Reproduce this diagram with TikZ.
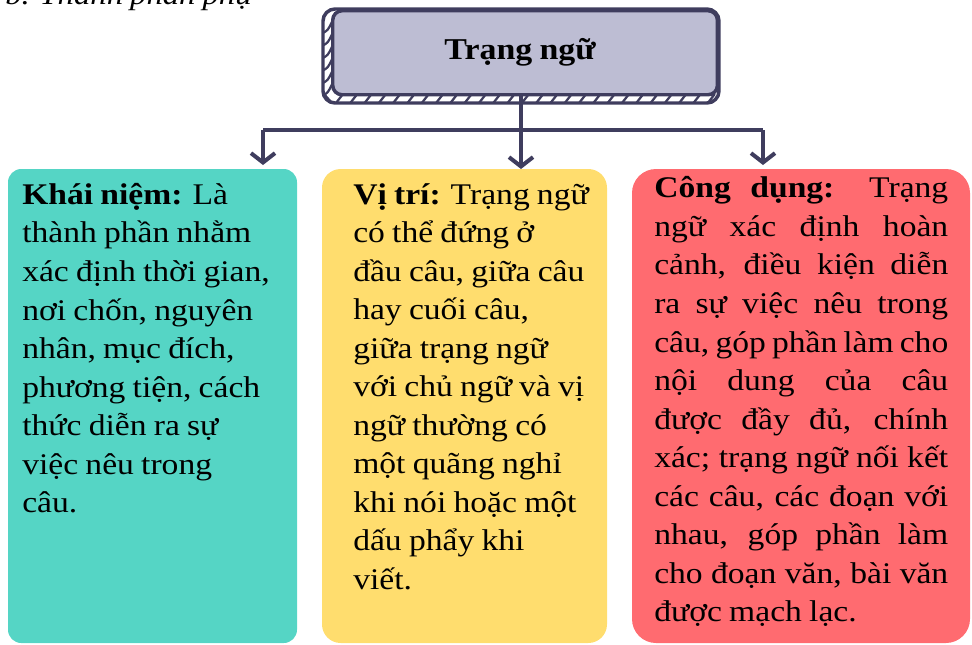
\documentclass[tikz,border=0pt]{standalone}
\usepackage{fontspec}
\setmainfont[FakeStretch=1.12,WordSpace=0.86]{Liberation Serif}
\usetikzlibrary{arrows.meta}
\definecolor{ink}{HTML}{3F3D5E}
\definecolor{lilac}{HTML}{BDBDD3}
\definecolor{teal}{HTML}{55D5C5}
\definecolor{sun}{HTML}{FFDD6E}
\definecolor{coral}{HTML}{FF6B70}
\newcommand{\jl}[1]{\makebox[220.5pt][s]{#1}}
\tikzset{
  x=0.75pt,y=-0.75pt,
  card/.style={fill=#1,draw=none},
  body/.style={anchor=north west,align=left,inner sep=0pt,font=\fontsize{22.5}{28.9}\selectfont},
  wire/.style={draw=ink,line width=3pt},
  drop/.style={wire,-{Straight Barb[length=7pt,width=18pt,line width=3pt]}},
  hatchmark/.style={draw=ink,line width=1.7pt}
}
\begin{document}
\begin{tikzpicture}
\useasboundingbox (0,0) rectangle (972,644);
\begin{scope}
\clip (0,0) rectangle (972,644);
\node[anchor=base west,inner sep=0pt,font=\itshape\fontsize{21.9}{26}\selectfont] (sub) at (5,4) {b. Thành phần phụ};
\end{scope}
% cards
\path[card=teal,rounded corners=10pt] (8,169) rectangle (297,643);
\path[card=sun,rounded corners=14pt] (322,169) rectangle (607,643);
\path[card=coral,rounded corners=18pt] (632,169) rectangle (970,643);
% header
\path[draw=ink,line width=2.6pt,fill=white,rounded corners=9pt] (323,9) rectangle (719,103);
\foreach \i in {0,...,26}{
  \draw[hatchmark] ({336+14.3*\i},103) -- ({343+14.3*\i},94);
}
\foreach \i in {0,...,5}{
  \draw[hatchmark] (323,{33+12.5*\i}) .. controls (328,{30+12.5*\i}) .. (332,{22+12.5*\i});
}
\draw[hatchmark] (323,93) -- (332,103);
\node[draw=ink,line width=2.6pt,fill=lilac,rounded corners=7pt,minimum width=288.5pt,minimum height=63pt,inner sep=0pt,anchor=north west,font=\bfseries\fontsize{22.7}{26}\selectfont] (top) at (331,9) {\raisebox{-2pt}{Trạng ngữ}\hspace*{7.5pt}};
% connectors
\coordinate (busL) at (263,130);
\coordinate (busM) at (521,130);
\coordinate (busR) at (763,130);
\coordinate (endL) at (263,165);
\coordinate (endM) at (521,169);
\coordinate (endR) at (763,165);
\draw[wire] (busL) -- (busR);
\draw[drop,line width=3.5pt] (top.south -| busM) -- (endM);
\draw[drop] (busL) -- (endL);
\draw[drop] (busR) -- (endR);
% texts
\node[body] (khai) at (22,183) {\textbf{Khái niệm:} Là\\thành phần nhằm\\xác định thời gian,\\nơi chốn, nguyên\\nhân, mục đích,\\phương tiện, cách\\thức diễn ra sự\\việc nêu trong\\câu.};
\node[body] (vitri) at (353,183) {\textbf{Vị trí:} Trạng ngữ\\có thể đứng ở\\đầu câu, giữa câu\\hay cuối câu,\\giữa trạng ngữ\\với chủ ngữ và vị\\ngữ thường có\\một quãng nghỉ\\khi nói hoặc một\\dấu phẩy khi\\viết.};
\node[body] (cong) at (654,176.5) {\jl{\textbf{Công dụng:} Trạng}\\\jl{ngữ xác định hoàn}\\\jl{cảnh, điều kiện diễn}\\\jl{ra sự việc nêu trong}\\\jl{câu, góp phần làm cho}\\\jl{nội dung của câu}\\\jl{được đầy đủ, chính}\\\jl{xác; trạng ngữ nối kết}\\\jl{các câu, các đoạn với}\\\jl{nhau, góp phần làm}\\\jl{cho đoạn văn, bài văn}\\được mạch lạc.};
\end{tikzpicture}
\end{document}
